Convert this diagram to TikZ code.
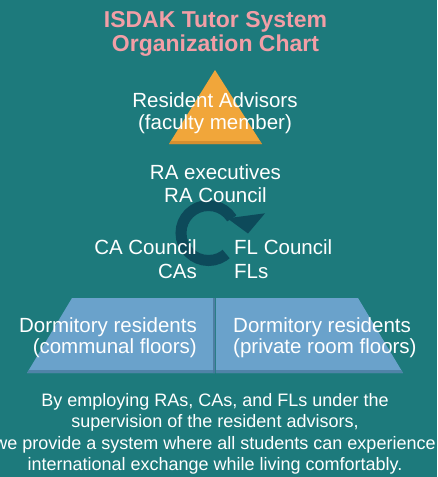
\documentclass[tikz,border=0pt]{standalone}
\usepackage{fontspec}
\usetikzlibrary{calc}
\setmainfont{Liberation Sans}
\begin{document}
\definecolor{bgteal}{RGB}{29,122,124}
\definecolor{titlepink}{RGB}{242,158,166}
\definecolor{raorange}{RGB}{241,166,58}
\definecolor{raorangedark}{RGB}{196,128,40}
\definecolor{dormblue}{RGB}{106,162,203}
\definecolor{dormbluedark}{RGB}{70,118,152}
\definecolor{cycleteal}{RGB}{13,74,90}
\begin{tikzpicture}[x=1pt,y=-1pt,
  titletext/.style={anchor=base,inner sep=0pt,text=titlepink,font=\fontsize{23}{25}\selectfont\bfseries},
  bodytext/.style={inner sep=0pt,text=white,font=\fontsize{20.5}{23}\selectfont},
  notetext/.style={anchor=base,inner sep=0pt,text=white,font=\fontsize{18}{21}\selectfont},
  ring/.style={draw=cycleteal,line width=11pt}]
\useasboundingbox (0,0) rectangle (437,477);
\clip (0,0) rectangle (437,477);
\fill[bgteal] (0,0) rectangle (437,477);

% title
\node[titletext] (t1) at (215.5,27) {ISDAK Tutor System};
\node[titletext] (t2) at (215.5,51) {Organization Chart};

% resident advisors pyramid tip
\fill[raorange] (215,70) -- (262,144) -- (169,144) -- cycle;
\begin{scope}
  \clip (215,70) -- (262,144) -- (169,144) -- cycle;
  \fill[raorangedark,opacity=0.6] (160,141) rectangle (270,145);
\end{scope}

% dormitory floors
\fill[dormblue] (72,298) -- (215,298) -- (215,373) -- (27,373) -- cycle;
\fill[dormblue] (216,298) -- (358,298) -- (403,373) -- (216,373) -- cycle;
\begin{scope}
  \clip (72,298) -- (215,298) -- (215,373) -- (27,373) -- cycle;
  \fill[dormbluedark,opacity=0.7] (20,370) rectangle (220,374);
  \fill[dormbluedark,opacity=0.8] (212.5,298) rectangle (216,374);
\end{scope}
\begin{scope}
  \clip (216,298) -- (358,298) -- (403,373) -- (216,373) -- cycle;
  \fill[dormbluedark,opacity=0.7] (210,370) rectangle (410,374);
\end{scope}

% cycle arrow: a ring with an open wedge on the right, plus its head
\coordinate (cyc) at (208.5,233);
\begin{scope}
  \clip (cyc) -- ($(cyc)+(50:60)$) -- ($(cyc)+(90:60)$) -- ($(cyc)+(180:60)$)
        -- ($(cyc)+(270:60)$) -- ($(cyc)+(328:60)$) -- cycle;
  \draw[ring] (cyc) circle[radius=27.5];
\end{scope}
\fill[cycleteal] (227.3,218.3) -- (265,213.3) -- (248,233.5) -- cycle;

% labels
\node[bodytext,anchor=base] (ra1) at (215,107) {Resident Advisors};
\node[bodytext,anchor=base] (ra2) at (215,129) {(faculty member)};
\node[bodytext,anchor=base] (rx1) at (215.5,179) {RA executives};
\node[bodytext,anchor=base] (rx2) at (215.5,202) {RA Council};
\node[bodytext,anchor=base east] (ca1) at (197,254) {CA Council};
\node[bodytext,anchor=base east] (ca2) at (197,278) {CAs};
\node[bodytext,anchor=base west] (fl1) at (234,254) {FL Council};
\node[bodytext,anchor=base west] (fl2) at (234,278) {FLs};
\node[bodytext,anchor=base east] (dl1) at (197,332) {Dormitory residents};
\node[bodytext,anchor=base east] (dl2) at (197,353) {(communal floors)};
\node[bodytext,anchor=base west] (dr1) at (233,332) {Dormitory residents};
\node[bodytext,anchor=base west] (dr2) at (233,353) {(private room floors)};

% note
\node[notetext] (n1) at (215,406) {By employing RAs, CAs, and FLs under the};
\node[notetext] (n2) at (215,427.5) {supervision of the resident advisors,};
\node[notetext] (n3) at (215,449) {we provide a system where all students can experience};
\node[notetext] (n4) at (215,470.5) {international exchange while living comfortably.};
\end{tikzpicture}
\end{document}
